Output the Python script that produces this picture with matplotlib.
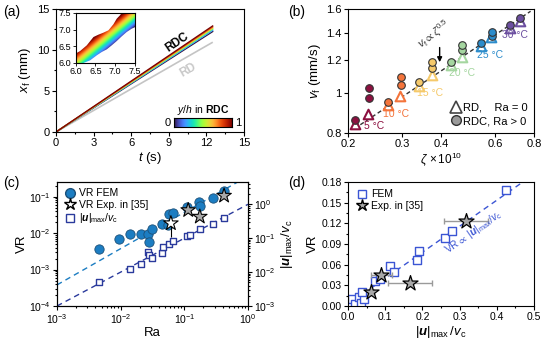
import numpy as np
import matplotlib
matplotlib.use('Agg')
import matplotlib.pyplot as plt
from matplotlib.lines import Line2D
from matplotlib.patches import Polygon
import matplotlib.ticker as mticker

plt.rcParams['font.family'] = ['Liberation Sans', 'DejaVu Sans']
plt.rcParams['mathtext.fontset'] = 'custom'
plt.rcParams['mathtext.rm'] = 'Liberation Sans'
plt.rcParams['mathtext.it'] = 'Liberation Sans:italic'
plt.rcParams['mathtext.bf'] = 'Liberation Sans:bold'
plt.rcParams['mathtext.bfit'] = 'Liberation Sans:bold:italic'
plt.rcParams['mathtext.fallback'] = 'stixsans'
plt.rcParams['axes.linewidth'] = 0.8

# ---------------- data: panel (a) ----------------
a_t = [0.0, 12.5]
rdc_levels = [0.0, 0.2, 0.4, 0.6, 0.8, 1.0]          # y/h
rdc_xf_end = [12.25, 12.4, 12.55, 12.65, 12.8, 12.93]  # x_f at t = 12.5 s
rd_t = [0.0, 12.45]
rd_xf = [0.0, 10.9]
inset_top_t = [6.0, 6.117, 6.285, 6.453, 6.578, 6.704, 6.83, 6.955, 7.04, 7.12, 7.165, 7.25]
inset_top_x = [6.28, 6.36, 6.53, 6.78, 6.85, 6.91, 6.98, 7.16, 7.33, 7.43, 7.5, 7.62]
inset_bot_t = [6.0, 6.20, 6.369, 6.536, 6.662, 6.788, 6.913, 7.04, 7.165, 7.29, 7.416, 7.6]
inset_bot_x = [5.85, 6.0, 6.08, 6.23, 6.33, 6.41, 6.53, 6.66, 6.80, 6.93, 7.03, 7.13]

# ---------------- data: panel (b) ----------------
temps = ['5 °C', '10 °C', '15 °C', '20 °C', '25 °C', '30 °C']
temp_colors = ['#8C1040', '#F4743B', '#F5C96A', '#A5D6A0', '#2C8CCB', '#6C4FA0']
rd_zeta = [[0.2106, 0.2326], [0.2702, 0.2943], [0.3396, 0.3729],
           [0.430, 0.4668], [0.538, 0.581], [0.667, 0.723]]
rd_vf = [[0.841, 0.892], [0.935, 0.986], [1.040, 1.106],
         [1.170, 1.226], [1.301, 1.368], [1.439, 1.494]]
rdc_zeta = [[0.2106, 0.2343, 0.2343], [0.2702, 0.2958, 0.2958], [0.3396, 0.3735, 0.3735],
            [0.430, 0.4668, 0.4690], [0.538, 0.584, 0.584], [0.667, 0.723]]
rdc_vf = [[0.860, 0.971, 1.027], [0.953, 1.046, 1.096], [1.062, 1.152, 1.193],
          [1.193, 1.272, 1.308], [1.321, 1.379, 1.409], [1.463, 1.519]]
temp_lab_x = [0.243, 0.287, 0.368, 0.469, 0.578, 0.696]
temp_lab_y = [0.834, 0.892, 0.999, 1.117, 1.235, 1.381]
fit_b_x = [0.21, 0.78]
fit_b_y = [0.82, 1.58]

# ---------------- data: panel (c) ----------------
ra_fem = [0.00464, 0.00955, 0.0141, 0.0208, 0.0271, 0.0281, 0.0307, 0.0449,
          0.0558, 0.0572, 0.0668, 0.112, 0.171, 0.175, 0.282, 0.421]
vr_fem = [0.0037, 0.0069, 0.0093, 0.0097, 0.0095, 0.0056, 0.0130, 0.0176,
          0.0168, 0.0331, 0.0357, 0.053, 0.073, 0.057, 0.0945, 0.144]
ra_exp = [0.0615, 0.115, 0.175, 0.421]
vr_exp = [0.0187, 0.043, 0.0284, 0.107]
vr_exp_lo = [0.0107, 0.0, 0.0, 0.0]
ra_u = [0.00464, 0.0141, 0.0208, 0.0266, 0.0281, 0.0307, 0.0449, 0.0466,
        0.0570, 0.0668, 0.110, 0.122, 0.175, 0.282, 0.421]
u_ratio = [0.0052, 0.0121, 0.0177, 0.0399, 0.0319, 0.0256, 0.0359, 0.0561,
           0.0674, 0.0843, 0.116, 0.124, 0.187, 0.257, 0.402]
fit_c_vr_x = [1e-3, 1.0]
fit_c_vr_y = [3.8e-4, 0.37]
fit_c_u_x = [1e-3, 1.0]
fit_c_u_y = [1e-3, 1.0]

# ---------------- data: panel (d) ----------------
u_fem_d = [0.0108, 0.0197, 0.0305, 0.036, 0.044, 0.0377, 0.0736, 0.087,
           0.112, 0.123, 0.186, 0.192, 0.262, 0.280, 0.424]
vr_fem_d = [0.0099, 0.0035, 0.0133, 0.005, 0.0099, 0.0197, 0.037, 0.0395,
            0.058, 0.049, 0.0666, 0.080, 0.0987, 0.1085, 0.1677]
u_exp_d = [0.0628, 0.0898, 0.166, 0.316]
vr_exp_d = [0.0197, 0.0444, 0.0335, 0.1233]
u_exp_err = [0.008, 0.029, 0.059, 0.059]
fit_d_x = [0.065, 0.47]
fit_d_y = [0.027, 0.18]

# ---------------- figure ----------------
W, H = 554, 340
fig = plt.figure(figsize=(W / 100, H / 100), dpi=100)


def ax_px(l, t, r, b):
    return fig.add_axes([l / W, 1 - b / H, (r - l) / W, (b - t) / H])


def style(ax, size=7.5):
    ax.tick_params(which='both', direction='out', labelsize=size, pad=1.5, width=0.8)
    ax.tick_params(which='major', length=3)
    ax.tick_params(which='minor', length=1.6)


cmap = plt.get_cmap('turbo')
lab_fs = 9.5

# ---- (a)
axa = ax_px(56, 9, 244, 132)
axa.plot(rd_t, rd_xf, color='#C4C4C4', lw=1.2)
for lev, xe in zip(rdc_levels, rdc_xf_end):
    axa.plot(a_t, [0, xe], color=cmap(lev), lw=1.0)
axa.set_xlim(0, 15)
axa.set_ylim(0, 15)
axa.set_xticks([0, 3, 6, 9, 12, 15])
axa.set_yticks([0, 5, 10, 15])
axa.xaxis.set_minor_locator(mticker.MultipleLocator(1.5))
axa.yaxis.set_minor_locator(mticker.MultipleLocator(2.5))
style(axa, 8)
axa.set_xlabel(r'$t$ (s)', fontsize=lab_fs, labelpad=1)
axa.set_ylabel(r'$x_{\rm f}$ (mm)', fontsize=lab_fs, labelpad=3)
axa.text(9.65, 10.98, 'RDC', rotation=34, fontweight='bold', fontsize=8.5,
         ha='center', va='center')
axa.text(10.53, 7.56, 'RD', rotation=30, fontweight='bold', fontsize=8.5,
         color='#C8C8C8', ha='center', va='center')

cax = ax_px(174, 118, 232, 127)
cax.imshow(np.linspace(0, 1, 256)[None, :], aspect='auto', cmap=cmap,
           extent=[0, 1, 0, 1])
cax.set_xticks([])
cax.set_yticks([])
cax.text(-0.06, 0.5, '0', ha='right', va='center', fontsize=8, transform=cax.transAxes)
cax.text(1.06, 0.5, '1', ha='left', va='center', fontsize=8, transform=cax.transAxes)
cax.text(0.5, 1.15, r'$y/h$ in $\mathbf{RDC}$', ha='center', va='bottom', fontsize=7.5,
         transform=cax.transAxes)

axi = ax_px(75.5, 13, 135, 63)
verts = list(zip(inset_top_t, inset_top_x)) + [(7.6, 7.62)] + \
    list(zip(inset_bot_t[::-1], inset_bot_x[::-1]))
patch = Polygon(verts, closed=True, facecolor='none', edgecolor='none',
                transform=axi.transData)
axi.add_patch(patch)
gx, gy = np.meshgrid(np.linspace(5.9, 7.7, 200), np.linspace(5.8, 7.7, 200))
im = axi.imshow(gy - gx, extent=[5.9, 7.7, 5.8, 7.7], origin='lower', cmap=cmap,
                vmin=-0.4, vmax=0.3, aspect='auto', interpolation='bilinear')
im.set_clip_path(patch)
axi.set_xlim(6, 7.5)
axi.set_ylim(6, 7.5)
axi.set_xticks([6.0, 6.5, 7.0, 7.5])
axi.set_yticks([6.0, 6.5, 7.0, 7.5])
axi.xaxis.set_major_formatter(mticker.FormatStrFormatter('%.1f'))
axi.yaxis.set_major_formatter(mticker.FormatStrFormatter('%.1f'))
axi.tick_params(direction='out', labelsize=6.5, pad=1, length=2, width=0.6)

# ---- (b)
axb = ax_px(348, 9, 534, 133)
axb.set_xscale('log')
axb.set_yscale('log')
axb.plot(fit_b_x, fit_b_y, ls=(0, (3, 2)), color='#333333', lw=1, zorder=1)
for i in range(6):
    axb.scatter(rd_zeta[i], rd_vf[i], marker='^', s=48, facecolor='white',
                edgecolor=temp_colors[i], lw=1.5, zorder=2)
    axb.scatter(rdc_zeta[i], rdc_vf[i], marker='o', s=30, facecolor=temp_colors[i],
                edgecolor='#333333', lw=0.8, zorder=3)
    axb.text(temp_lab_x[i], temp_lab_y[i], temps[i], color=temp_colors[i], fontsize=7.5,
             ha='center', va='center')
axb.set_xlim(0.2, 0.8)
axb.set_ylim(0.8, 1.6)
axb.set_xticks([0.2, 0.3, 0.4, 0.6, 0.8])
axb.set_xticklabels(['0.2', '0.3', '0.4', '0.6', '0.8'])
axb.set_yticks([0.8, 1.0, 1.2, 1.4, 1.6])
axb.set_yticklabels(['0.8', '1', '1.2', '1.4', '1.6'])
axb.xaxis.set_minor_locator(mticker.NullLocator())
axb.yaxis.set_minor_locator(mticker.NullLocator())
style(axb, 8)
axb.set_xlabel(r'$\zeta\,\times10^{10}$', fontsize=8.5, labelpad=1)
axb.set_ylabel(r'$v_{\rm f}$ (mm/s)', fontsize=lab_fs, labelpad=2)
axb.annotate('', xy=(0.396, 1.17), xytext=(0.396, 1.31),
             arrowprops=dict(arrowstyle='-|>', color='k', lw=1, mutation_scale=7))
axb.text(0.381, 1.385, r'$v_{\rm f}\propto\zeta^{0.5}$', rotation=38, color='#3A3A3A',
         fontsize=8, ha='center', va='center')
hb = [Line2D([], [], marker='^', ls='', mfc='white', mec='#444444', mew=1.2, ms=8),
      Line2D([], [], marker='o', ls='', mfc='#9A9A9A', mec='#333333', ms=7)]
axb.legend(hb, ['RD,    Ra = 0', 'RDC, Ra > 0'], loc='lower right', frameon=False,
           fontsize=8, handletextpad=0.1, handlelength=1.0, borderaxespad=0.2,
           labelspacing=0.3)

# ---- (c)
c_blue = '#1C7DC2'
navy = '#2A3A9C'
axc = ax_px(57, 182, 248, 306)
axc.set_xscale('log')
axc.set_yscale('log')
axc.set_xlim(1e-3, 1)
axc.set_ylim(1e-4, 0.255)
axc2 = axc.twinx()
axc2.set_yscale('log')
axc2.set_ylim(1e-3, 4.55)
axc.plot(fit_c_vr_x, fit_c_vr_y, ls=(0, (4, 3)), color=c_blue, lw=1)
axc2.plot(fit_c_u_x, fit_c_u_y, ls=(0, (4, 3)), color=navy, lw=1)
axc2.scatter(ra_u, u_ratio, marker='s', s=22, facecolor='white', edgecolor=navy, lw=1, zorder=3)
axc.scatter(ra_fem, vr_fem, marker='o', s=45, facecolor=c_blue, edgecolor='#1b4f78',
            lw=0.6, zorder=3)
axc.errorbar(ra_exp, vr_exp, yerr=[vr_exp_lo, [0] * len(vr_exp)], fmt='none',
             ecolor='k', elinewidth=0.8, zorder=4)
axc.scatter(ra_exp, vr_exp, marker='*', s=120,
            facecolor=['white', '#A8A8A8', '#A8A8A8', '#A8A8A8'],
            edgecolor='k', lw=0.8, zorder=5)
for a in (axc, axc2):
    style(a, 7.5)
axc.set_xlabel('Ra', fontsize=lab_fs, labelpad=1)
axc.set_ylabel('VR', fontsize=lab_fs, labelpad=1)
axc2.set_ylabel(r'$|\mathbfit{u}|_{\rm max}/v_{\rm c}$', fontsize=lab_fs, labelpad=2)
hc = [Line2D([], [], marker='o', ls='', mfc=c_blue, mec='#1b4f78', ms=7),
      Line2D([], [], marker='*', ls='', mfc='white', mec='k', ms=9),
      Line2D([], [], marker='s', ls='', mfc='white', mec=navy, mew=1, ms=5.5)]
axc2.legend(hc, ['VR FEM', 'VR Exp. in [35]', r'$|\mathbfit{u}|_{\rm max}/v_{\rm c}$'],
            loc='upper left', frameon=False, fontsize=7.5, handletextpad=0.3,
            borderaxespad=0.2, labelspacing=0.15, handlelength=1.2)

# ---- (d)
d_blue = '#3B55D4'
axd = ax_px(348, 182, 534, 306)
axd.plot(fit_d_x, fit_d_y, ls=(0, (4, 3)), color=d_blue, lw=1, zorder=1)
axd.scatter(u_fem_d, vr_fem_d, marker='s', s=30, facecolor='white', edgecolor=d_blue,
            lw=1, zorder=2)
axd.errorbar(u_exp_d, vr_exp_d, xerr=u_exp_err, fmt='none', ecolor='#9A9A9A',
             elinewidth=1, capsize=2, zorder=3)
axd.scatter(u_exp_d, vr_exp_d, marker='*', s=130, facecolor='#A8A8A8', edgecolor='k',
            lw=0.9, zorder=4)
axd.set_xlim(0, 0.5)
axd.set_ylim(0, 0.18)
axd.set_xticks([0.0, 0.1, 0.2, 0.3, 0.4, 0.5])
axd.set_yticks([0.0, 0.03, 0.06, 0.09, 0.12, 0.15, 0.18])
axd.xaxis.set_major_formatter(mticker.FormatStrFormatter('%.1f'))
axd.yaxis.set_major_formatter(mticker.FormatStrFormatter('%.2f'))
axd.xaxis.set_minor_locator(mticker.MultipleLocator(0.05))
axd.yaxis.set_minor_locator(mticker.MultipleLocator(0.015))
style(axd, 7.5)
axd.set_xlabel(r'$|\mathbfit{u}|_{\rm max}\,/v_{\rm c}$', fontsize=lab_fs, labelpad=1)
axd.set_ylabel('VR', fontsize=lab_fs, labelpad=2)
axd.text(0.338, 0.107, r'VR$\propto$ $|\mathbfit{u}|_{\rm max}/v_{\rm c}$', rotation=35,
         color=d_blue, fontsize=7.5, ha='center', va='center')
hd = [Line2D([], [], marker='s', ls='', mfc='white', mec=d_blue, mew=1, ms=6),
      Line2D([], [], marker='*', ls='', mfc='#A8A8A8', mec='k', ms=9)]
axd.legend(hd, ['FEM', 'Exp. in [35]'], loc='upper left', frameon=False, fontsize=7.5,
           handletextpad=0.3, borderaxespad=0.3, labelspacing=0.15, handlelength=1.2)

for lbl, x, y in [('(a)', 3, 12), ('(b)', 288, 12), ('(c)', 3, 183), ('(d)', 288, 183)]:
    fig.text(x / W, 1 - y / H, lbl, fontsize=10, va='center', ha='left')

fig.savefig('out.png', dpi=100)
